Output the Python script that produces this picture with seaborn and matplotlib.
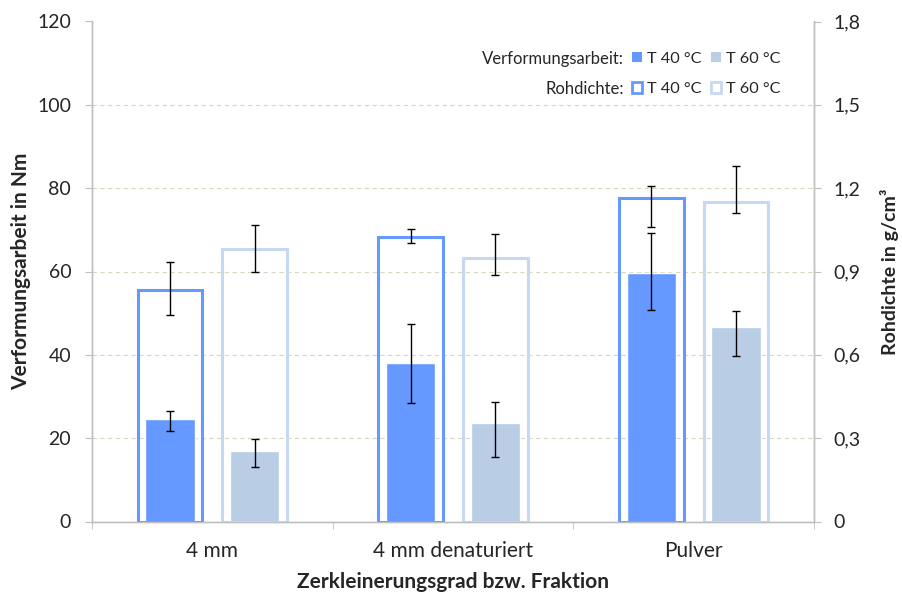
import pandas as pd
import matplotlib.pyplot as plt
import matplotlib.ticker as mticker
from matplotlib.patches import Patch
import seaborn as sns

# values
fraktion = ['4 mm', '4 mm denaturiert', 'Pulver']
temperatur = ['T 40 °C', 'T 60 °C']

arbeit_40 = [24.6, 38.0, 59.7]
arbeit_40_lo = [21.7, 28.4, 50.8]
arbeit_40_hi = [26.6, 47.3, 69.2]
arbeit_60 = [16.9, 23.7, 46.6]
arbeit_60_lo = [13.0, 15.4, 39.7]
arbeit_60_hi = [19.7, 28.7, 50.6]

dichte_40 = [0.835, 1.024, 1.164]
dichte_40_lo = [0.745, 1.002, 1.059]
dichte_40_hi = [0.933, 1.052, 1.208]
dichte_60 = [0.982, 0.950, 1.152]
dichte_60_lo = [0.898, 0.888, 1.110]
dichte_60_hi = [1.066, 1.035, 1.280]

left_ticks = [0, 20, 40, 60, 80, 100, 120]
right_ticks = [0, 0.3, 0.6, 0.9, 1.2, 1.5, 1.8]

fill_colors = ['#6699ff', '#b9cde5']
edge_colors = ['#6699ff', '#c6d9f1']

df_arbeit = pd.DataFrame({
    'Fraktion': fraktion * 2,
    'Temperatur': [temperatur[0]] * 3 + [temperatur[1]] * 3,
    'Wert': arbeit_40 + arbeit_60,
})
df_dichte = pd.DataFrame({
    'Fraktion': fraktion * 2,
    'Temperatur': [temperatur[0]] * 3 + [temperatur[1]] * 3,
    'Wert': dichte_40 + dichte_60,
})

sns.set_style('white')
plt.rcParams['font.family'] = ['Lato', 'DejaVu Sans']

fig = plt.figure(figsize=(9.02, 5.97), dpi=100)
ax = fig.add_axes([92 / 902, 75.5 / 597, 722 / 902, 500 / 597])
ax2 = ax.twinx()

# filled bars: Verformungsarbeit
sns.barplot(data=df_arbeit, x='Fraktion', y='Wert', hue='Temperatur',
            order=fraktion, hue_order=temperatur, palette=fill_colors,
            width=0.704, gap=0.42, errorbar=None, legend=False,
            edgecolor='white', linewidth=1, saturation=1, ax=ax)

# open bars: Rohdichte
sns.barplot(data=df_dichte, x='Fraktion', y='Wert', hue='Temperatur',
            order=fraktion, hue_order=temperatur, palette=edge_colors,
            width=0.704, gap=0.24, errorbar=None, legend=False,
            fill=False, linewidth=2.2, saturation=1, ax=ax2)

arbeit_err = [(arbeit_40, arbeit_40_lo, arbeit_40_hi), (arbeit_60, arbeit_60_lo, arbeit_60_hi)]
dichte_err = [(dichte_40, dichte_40_lo, dichte_40_hi), (dichte_60, dichte_60_lo, dichte_60_hi)]

for axis, errs in [(ax, arbeit_err), (ax2, dichte_err)]:
    for cont, (vals, lo, hi) in zip(axis.containers, errs):
        xs = [b.get_x() + b.get_width() / 2 for b in cont]
        yerr = [[v - l for v, l in zip(vals, lo)], [h - v for v, h in zip(vals, hi)]]
        axis.errorbar(xs, vals, yerr=yerr, fmt='none', ecolor='black',
                      elinewidth=1, capsize=3, capthick=1, zorder=5)

ax.set_xlim(-0.5, 2.5)
ax.set_ylim(0, 120)
ax2.set_ylim(0, 1.8)
ax.set_yticks(left_ticks)
ax2.set_yticks(right_ticks)
ax2.yaxis.set_major_formatter(mticker.FuncFormatter(
    lambda v, p: '0' if v == 0 else f'{v:.1f}'.replace('.', ',')))

# grid
ax.set_axisbelow(True)
ax.yaxis.grid(True, linestyle=(0, (4, 3)), color='#d8d6c0', linewidth=0.8)
ax.xaxis.grid(False)

spine_col = '#bfbfbf'
for a in (ax, ax2):
    a.spines['top'].set_visible(False)
    for s in ['left', 'right', 'bottom']:
        a.spines[s].set_color(spine_col)
        a.spines[s].set_linewidth(1)

ax.tick_params(axis='y', which='major', direction='out', length=5, color=spine_col,
               labelsize=14, pad=10, left=True)
ax2.tick_params(axis='y', which='major', direction='out', length=5, color=spine_col,
                labelsize=14, pad=9, right=True)
ax.set_xticks(range(len(fraktion)))
ax.set_xticklabels(fraktion)
ax.set_xticks([-0.5, 0.5, 1.5, 2.5], minor=True)
ax.tick_params(axis='x', which='major', length=0, labelsize=15, pad=14)
ax.tick_params(axis='x', which='minor', direction='out', length=5, color=spine_col, bottom=True)

ax.set_xlabel('Zerkleinerungsgrad bzw. Fraktion', fontsize=15, fontweight='bold')
ax.set_ylabel('Verformungsarbeit in Nm', fontsize=15, fontweight='bold')
ax2.set_ylabel('Rohdichte in g/cm³', fontsize=14, fontweight='bold')
ax.xaxis.set_label_coords(0.5, -0.1)
ax.yaxis.set_label_coords(-0.085, 0.5)
ax2.yaxis.set_label_coords(1.092, 0.5)

# legend
handles = [
    Patch(facecolor=fill_colors[0], edgecolor='none'),
    Patch(facecolor='white', edgecolor=edge_colors[0], linewidth=2),
    Patch(facecolor=fill_colors[1], edgecolor='none'),
    Patch(facecolor='white', edgecolor=edge_colors[1], linewidth=2),
]
labels = [temperatur[0], temperatur[0], temperatur[1], temperatur[1]]
fig.legend(handles, labels, ncol=2, loc='upper left',
           bbox_to_anchor=(632 / 902, 1 - 52 / 597), frameon=False,
           fontsize=11.7, handlelength=0.6, handleheight=0.6, handletextpad=0.35,
           columnspacing=0.55, labelspacing=1.0, borderpad=0, borderaxespad=0)
fig.text(624 / 902, 1 - 59 / 597, 'Verformungsarbeit:', ha='right', va='center', fontsize=12)
fig.text(624 / 902, 1 - 89 / 597, 'Rohdichte:', ha='right', va='center', fontsize=12)

fig.savefig('out.png', dpi=100)
